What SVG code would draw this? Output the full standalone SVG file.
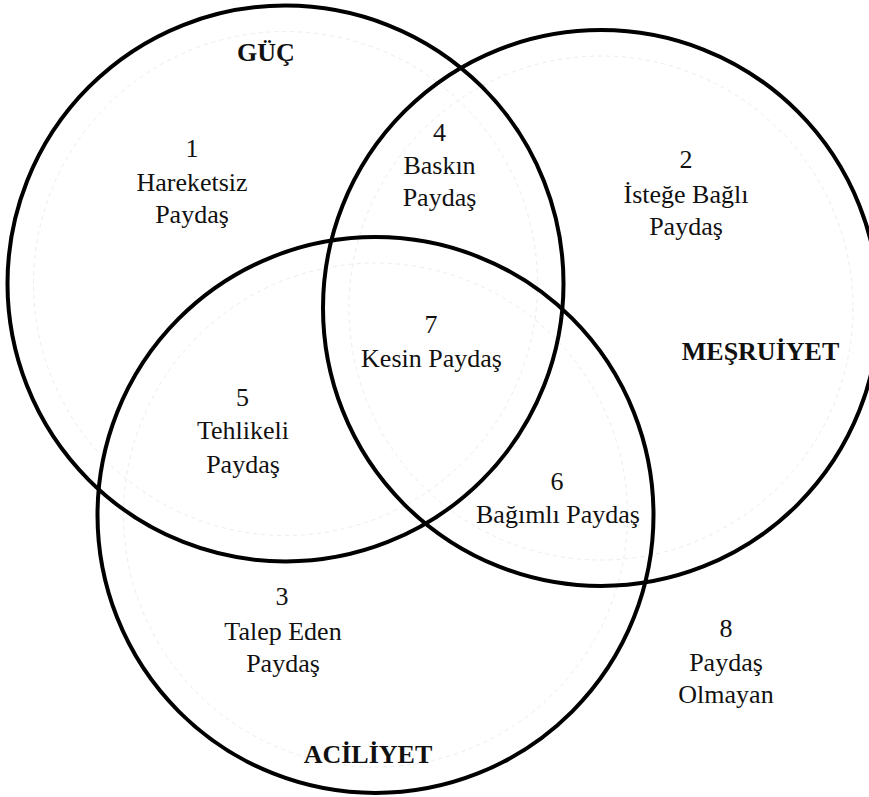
<svg xmlns="http://www.w3.org/2000/svg" width="869" height="797" viewBox="0 0 869 797">
  <style>
    .ring { fill: none; stroke: #000; stroke-width: 4; }
    .guide { fill: none; stroke: #ececec; stroke-width: 1; stroke-dasharray: 4 4; }
    text { font-family: 'Liberation Serif', 'Tinos', 'DejaVu Serif', serif; font-size: 26px; fill: #111; text-anchor: middle; }
    .ttl { font-weight: bold; }
  </style>
  <rect width="869" height="797" fill="#fff"/>

  <!-- faint inner guide rings -->
  <g id="guides">
    <circle class="guide" cx="285.5" cy="283.5" r="252"/>
    <circle class="guide" cx="601" cy="308" r="252"/>
    <circle class="guide" cx="375.5" cy="515" r="252"/>
  </g>

  <!-- attribute sets -->
  <g id="guc">
    <circle class="ring" cx="285.5" cy="283.5" r="278"/>
    <text class="ttl" x="266" y="61" font-family="Liberation Serif, serif">GÜÇ</text>
  </g>
  <g id="mesruiyet">
    <circle class="ring" cx="601" cy="308" r="278"/>
    <text class="ttl" x="760.5" y="360" font-family="Liberation Serif, serif">MEŞRUİYET</text>
  </g>
  <g id="aciliyet">
    <circle class="ring" cx="375.5" cy="515" r="278"/>
    <text class="ttl" x="368" y="763" font-family="Liberation Serif, serif">ACİLİYET</text>
  </g>

  <!-- stakeholder classes -->
  <g id="s1">
    <text x="192" y="157">1</text>
    <text x="192" y="191">Hareketsiz</text>
    <text x="192" y="223">Paydaş</text>
  </g>
  <g id="s2">
    <text x="686" y="168">2</text>
    <text x="686" y="203">İsteğe Bağlı</text>
    <text x="686" y="235">Paydaş</text>
  </g>
  <g id="s3">
    <text x="282" y="605">3</text>
    <text x="283" y="640">Talep Eden</text>
    <text x="283" y="672">Paydaş</text>
  </g>
  <g id="s4">
    <text x="439.5" y="141">4</text>
    <text x="439.5" y="174">Baskın</text>
    <text x="439.5" y="206">Paydaş</text>
  </g>
  <g id="s5">
    <text x="242.5" y="406">5</text>
    <text x="243" y="439">Tehlikeli</text>
    <text x="243" y="473">Paydaş</text>
  </g>
  <g id="s6">
    <text x="557" y="490">6</text>
    <text x="558" y="523">Bağımlı Paydaş</text>
  </g>
  <g id="s7">
    <text x="431" y="333">7</text>
    <text x="431.5" y="367">Kesin Paydaş</text>
  </g>
  <g id="s8">
    <text x="726" y="637">8</text>
    <text x="726" y="671">Paydaş</text>
    <text x="726" y="703">Olmayan</text>
  </g>

  <g id="connectors"></g>
</svg>
